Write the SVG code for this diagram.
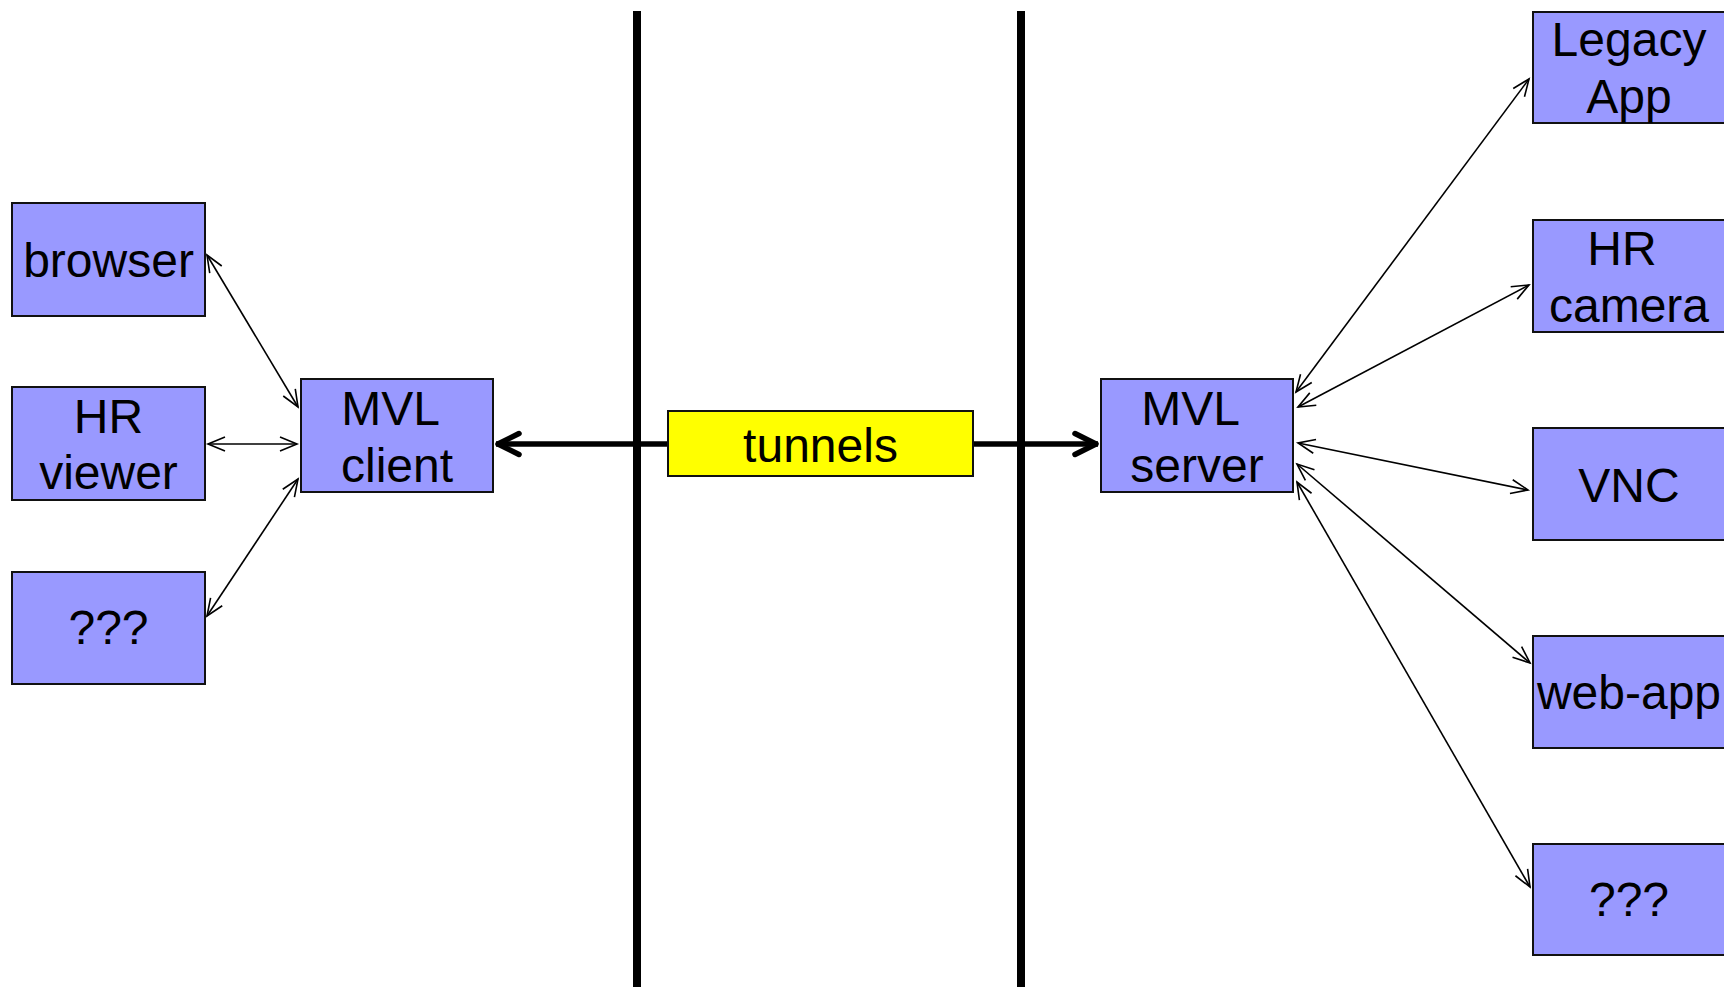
<svg xmlns="http://www.w3.org/2000/svg" width="1724" height="987" viewBox="0 0 1724 987">
  <style>
    .box { fill: #9999ff; stroke: #111; stroke-width: 2; }
    .tun { fill: #ffff00; stroke: #111; stroke-width: 2; }
    .lbl { font-family: "Liberation Sans", Arial, sans-serif; font-size: 48px; fill: #000; text-anchor: middle; }
    .thin { stroke: #000; stroke-width: 1.6; fill: none; marker-start: url(#tip); marker-end: url(#tip); }
    .thick { stroke: #000; stroke-width: 5.5; fill: none; marker-start: url(#bigtip); marker-end: url(#bigtip); }
    .wall { stroke: #000; stroke-width: 8; }
  </style>
  <defs>
    <marker id="tip" markerUnits="userSpaceOnUse" orient="auto-start-reverse" refX="0" refY="0" markerWidth="40" markerHeight="40" viewBox="-20 -20 40 40" overflow="visible">
      <path d="M-17,-7 L0,0 L-17,7" fill="none" stroke="#000" stroke-width="1.6"/>
    </marker>
    <marker id="bigtip" markerUnits="userSpaceOnUse" orient="auto-start-reverse" refX="0" refY="0" markerWidth="60" markerHeight="60" viewBox="-30 -30 60 60" overflow="visible">
      <path d="M-23,-10.5 L-2,0 L-23,10.5" fill="none" stroke="#000" stroke-width="5.5" stroke-linecap="round" stroke-linejoin="round"/>
    </marker>
  </defs>

  <rect width="1724" height="987" fill="#fff"/>

  <!-- boundary walls -->
  <g id="walls">
    <line class="wall" x1="637" y1="11" x2="637" y2="987"/>
    <line class="wall" x1="1021" y1="11" x2="1021" y2="987"/>
  </g>

  <!-- connectors -->
  <g id="connectors">
    <line class="thick" x1="496" y1="444" x2="1098" y2="444"/>
    <line class="thin" x1="207" y1="255" x2="298" y2="407"/>
    <line class="thin" x1="208" y1="444" x2="297" y2="444"/>
    <line class="thin" x1="207" y1="616" x2="298" y2="479"/>
    <line class="thin" x1="1296" y1="392" x2="1529" y2="79"/>
    <line class="thin" x1="1298" y1="407" x2="1529" y2="285"/>
    <line class="thin" x1="1298" y1="443" x2="1528" y2="490"/>
    <line class="thin" x1="1297" y1="464" x2="1530" y2="663"/>
    <line class="thin" x1="1297" y1="482" x2="1530" y2="887"/>
  </g>

  <g id="browser">
    <rect class="box" x="12" y="203" width="193" height="113"/>
    <text class="lbl" x="108.5" y="277">browser</text>
  </g>
  <g id="hr-viewer">
    <rect class="box" x="12" y="387" width="193" height="113"/>
    <text class="lbl" x="108.5" y="433">HR</text>
    <text class="lbl" x="108.5" y="489">viewer</text>
  </g>
  <g id="client-other">
    <rect class="box" x="12" y="572" width="193" height="112"/>
    <text class="lbl" x="108.5" y="644">???</text>
  </g>
  <g id="mvl-client">
    <rect class="box" x="301" y="379" width="192" height="113"/>
    <text class="lbl" x="390.5" y="425">MVL</text>
    <text class="lbl" x="397" y="482">client</text>
  </g>
  <g id="tunnels">
    <rect class="tun" x="668" y="411" width="305" height="65"/>
    <text class="lbl" x="820.5" y="462">tunnels</text>
  </g>
  <g id="mvl-server">
    <rect class="box" x="1101" y="379" width="192" height="113"/>
    <text class="lbl" x="1190.5" y="425">MVL</text>
    <text class="lbl" x="1197" y="482">server</text>
  </g>
  <g id="legacy-app">
    <rect class="box" x="1533" y="12" width="193" height="111"/>
    <text class="lbl" x="1629" y="56">Legacy</text>
    <text class="lbl" x="1629" y="113">App</text>
  </g>
  <g id="hr-camera">
    <rect class="box" x="1533" y="220" width="193" height="112"/>
    <text class="lbl" x="1622" y="265">HR</text>
    <text class="lbl" x="1629" y="322">camera</text>
  </g>
  <g id="vnc">
    <rect class="box" x="1533" y="428" width="193" height="112"/>
    <text class="lbl" x="1629" y="502">VNC</text>
  </g>
  <g id="web-app">
    <rect class="box" x="1533" y="636" width="193" height="112"/>
    <text class="lbl" x="1629" y="709">web-app</text>
  </g>
  <g id="server-other">
    <rect class="box" x="1533" y="844" width="193" height="111"/>
    <text class="lbl" x="1629" y="916">???</text>
  </g>
</svg>
